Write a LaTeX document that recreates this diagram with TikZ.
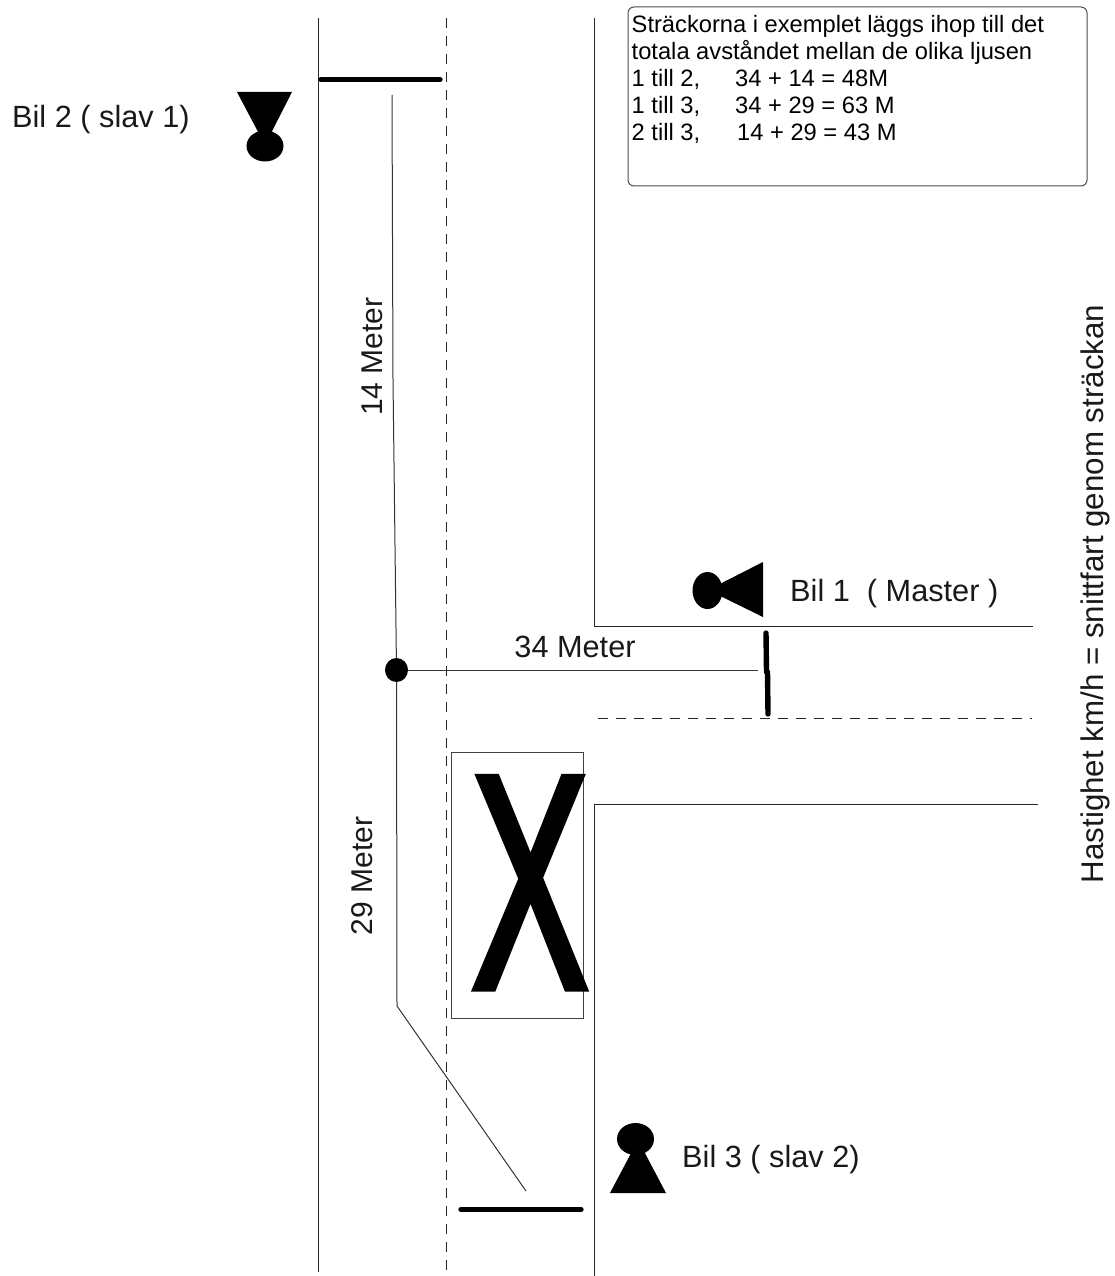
\documentclass[tikz,border=0pt]{standalone}
\usepackage{fontspec}
\setmainfont{Liberation Sans}
\newfontfamily\xmarkfont[FakeBold=3]{Liberation Sans}
\usetikzlibrary{shapes.geometric}
\tikzset{
  road/.style={line width=1pt,color=black!85},
  dashroad/.style={line width=1pt,color=black!85,dash pattern=on 10pt off 8pt},
  meas/.style={line width=1pt,color=black!80},
  bar/.style={line width=5.4pt,line cap=round},
  blob/.style={fill=black,draw=none,ellipse,inner sep=0pt},
  label/.style={font=\fontsize{30.7}{33}\selectfont,inner sep=0pt,text=black!90},
  note/.style={font=\fontsize{23.7}{27}\selectfont,inner sep=0pt,text=black,align=left,anchor=north west},
  notebox/.style={draw=black!70,line width=1pt,rounded corners=6pt,inner sep=0pt,minimum width=459pt,minimum height=179pt},
  framebox/.style={draw=black!75,line width=1pt,inner sep=0pt,minimum width=132pt,minimum height=266pt},
}
\begin{document}
\begin{tikzpicture}[x=1pt,y=-1pt]
\useasboundingbox (0,0) rectangle (1114,1276);
% roads
\coordinate (lt) at (318,18); \coordinate (lb) at (318,1272);
\coordinate (dt) at (446,18); \coordinate (db) at (446,1272);
\coordinate (r1a) at (594,18); \coordinate (r1b) at (594,626); \coordinate (r1c) at (1033,626);
\coordinate (r2a) at (1038,804); \coordinate (r2b) at (594,804); \coordinate (r2c) at (594,1276);
\coordinate (ha) at (598,718); \coordinate (hb) at (1032,718);
\draw[road] (lt) -- (lb);
\draw[dashroad] (dt) -- (db);
\draw[road] (r1a) -- (r1b) -- (r1c);
\draw[road] (r2a) -- (r2b) -- (r2c);
\draw[dashroad] (ha) -- (hb);
% stop bars
\coordinate (b2a) at (321,79.5); \coordinate (b2b) at (440,79.5);
\draw[bar] (b2a) -- (b2b);
\coordinate (b1a) at (766,633); \coordinate (b1m) at (766.5,672); \coordinate (b1n) at (767.5,672); \coordinate (b1b) at (768,714);
\draw[bar] (b1a) -- (b1m);
\draw[bar] (b1n) -- (b1b);
\coordinate (b3a) at (461,1209.5); \coordinate (b3b) at (581,1209.5);
\draw[bar] (b3a) -- (b3b);
% measuring lines
\coordinate (dotc) at (396.5,670);
\coordinate (m1) at (392,95); \coordinate (m2) at (393,380);
\coordinate (m3) at (397,1006); \coordinate (m4) at (526,1191); \coordinate (m5) at (758,670);
\draw[meas] (m1) -- (m2) -- (dotc) -- (m3) -- (m4);
\draw[meas] (dotc) -- (m5);
\node[blob,minimum width=23pt,minimum height=24pt] (dot) at (dotc) {};
% obstacle
\node[framebox] (frame) at (517,885) {};
\node[inner sep=0pt,font=\xmarkfont\fontsize{303}{303}\selectfont,xscale=0.572,transform shape,anchor=base] (xmark) at (530,987) {X};
% note
\node[notebox] (nbox) at (857.5,96.5) {};
\node[note] (ntext) at (631.5,15.2) {Sträckorna i exemplet läggs ihop till det\\totala avståndet mellan de olika ljusen\\\makebox[103.5pt][l]{1 till 2,}34 + 14 = 48M\\\makebox[103.5pt][l]{1 till 3,}34 + 29 = 63 M\\\makebox[105.5pt][l]{2 till 3,}14 + 29 = 43 M};
% car 2
\node[blob,minimum width=37pt,minimum height=31pt] (c2) at (265,146) {};
\coordinate (c2a) at (237,92); \coordinate (c2b) at (292,92); \coordinate (c2c) at (265,145);
\fill (c2a) -- (c2b) -- (c2c) -- cycle;
% car 1
\node[blob,minimum width=30pt,minimum height=37pt] (c1) at (707.5,590.5) {};
\coordinate (c1a) at (763,562); \coordinate (c1b) at (763,617); \coordinate (c1c) at (708,590);
\fill (c1a) -- (c1b) -- (c1c) -- cycle;
% car 3
\node[blob,minimum width=37pt,minimum height=32pt] (c3) at (635.5,1139) {};
\coordinate (c3a) at (610,1193); \coordinate (c3b) at (666,1193); \coordinate (c3c) at (638,1140);
\fill (c3a) -- (c3b) -- (c3c) -- cycle;
% labels
\node[label,anchor=base west] (l2) at (12,128) {Bil 2 ( slav 1)};
\node[label,anchor=base west] (l1) at (790,601.5) {Bil 1 \ ( Master )};
\node[label,anchor=base west] (l3) at (682,1167.5) {Bil 3 ( slav 2)};
\node[label,anchor=base] (d34) at (575,657.5) {34 Meter};
\node[label,font=\fontsize{30}{33}\selectfont,anchor=base,rotate=90] (d14) at (382,356.5) {14 Meter};
\node[label,font=\fontsize{30}{33}\selectfont,anchor=base,rotate=90] (d29) at (372,876) {29 Meter};
\node[label,font=\fontsize{31.3}{33}\selectfont,anchor=base,rotate=90] (speed) at (1103,594) {Hastighet km/h = snittfart genom sträckan};
\end{tikzpicture}
\end{document}
